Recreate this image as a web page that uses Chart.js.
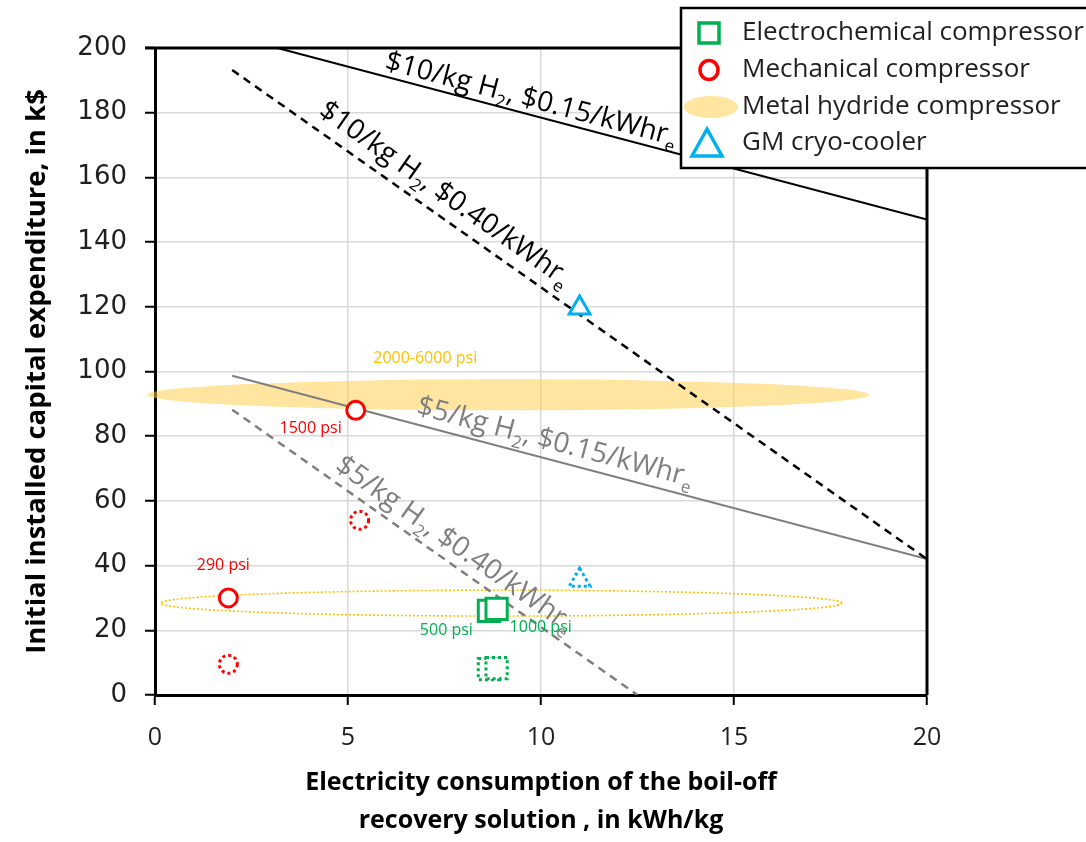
<!DOCTYPE html>
<html>
<head>
<meta charset="utf-8">
<script src="https://cdn.jsdelivr.net/npm/chart.js@4.4.1/dist/chart.umd.min.js"></script>
<style>
  html, body { margin: 0; padding: 0; background: #ffffff; }
  canvas { display: block; }
</style>
</head>
<body>
<canvas id="chart" width="1086" height="842"></canvas>
<script>
// ---- Axis ticks ----
const xTicks = [0, 5, 10, 15, 20];
const yTicks = [0, 20, 40, 60, 80, 100, 120, 140, 160, 180, 200];

// ---- Break-even cost lines (x: kWh/kg, y: k$) ----
const costLineX = [[3.17, 20], [2, 20], [2, 20], [2, 12.5]];
const costLineY = [[200, 147], [193.2, 42], [98.7, 42], [88.2, 0]];
const costLineLabel = [
  [['$10/kg H', 0], ['2', 1], [', $0.15/kWhr', 0], ['e', 1]],
  [['$10/kg H', 0], ['2', 1], [', $0.40/kWhr', 0], ['e', 1]],
  [['$5/kg H', 0], ['2', 1], [', $0.15/kWhr', 0], ['e', 1]],
  [['$5/kg H', 0], ['2', 1], [', $0.40/kWhr', 0], ['e', 1]]
];
const costLabelAtX = [9.65, 7.2, 10.25, 7.5];

// ---- Technologies ----
const mechX = [1.9, 5.2];
const mechY = [30, 88];
const mechLowX = [1.9, 5.3];
const mechLowY = [9.5, 54];
const echemX = [8.65, 8.85];
const echemY = [26, 26.6];
const echemLowX = [8.65, 8.85];
const echemLowY = [8, 8.3];
const cryoX = [11];
const cryoY = [119.6];
const cryoLowX = [11];
const cryoLowY = [35.5];

// Metal hydride compressor ranges: [xMin, xMax, yCenter, yHalfSpan]
const hydrideHigh = [-0.2, 18.5, 92.8, 4.8];
const hydrideLow = [0.15, 17.8, 28.4, 4.0];

// Pressure annotations
const mechPsi = ['290 psi', '1500 psi'];
const echemPsi = ['500 psi', '1000 psi'];
const hydridePsi = '2000-6000 psi';

const legendNames = ['Electrochemical compressor', 'Mechanical compressor', 'Metal hydride compressor', 'GM cryo-cooler'];

const RED = '#ff0000';
const GREEN = '#00b050';
const BLUE = '#00b0f0';
const GOLD = '#ffc000';
const GREY = '#7f7f7f';
const LABEL_FONT = '"Open Sans", "DejaVu Sans", sans-serif';

const pts = (xs, ys) => xs.map((v, i) => ({ x: v, y: ys[i] }));

const lineStyles = [
  { color: '#000000', dash: [], width: 2 },
  { color: '#000000', dash: [8, 6], width: 2.5 },
  { color: GREY, dash: [], width: 2 },
  { color: GREY, dash: [8, 6], width: 2.5 }
];

const lineSets = costLineX.map((xs, i) => ({
  type: 'scatter',
  data: pts(xs, costLineY[i]),
  showLine: true,
  borderColor: lineStyles[i].color,
  borderWidth: lineStyles[i].width,
  borderDash: lineStyles[i].dash,
  pointRadius: 0,
  fill: false,
  order: 2
}));

function markerSet(xs, ys, style, color, radius, dotted) {
  return {
    type: 'scatter',
    data: pts(xs, ys),
    pointStyle: style,
    pointRadius: radius,
    pointBorderWidth: 3,
    borderColor: color,
    pointBorderColor: color,
    pointBackgroundColor: '#ffffff',
    backgroundColor: '#ffffff',
    markerDash: dotted ? [3, 3] : null,
    order: dotted ? 1 : 0
  };
}

const markerSets = [
  markerSet(mechX, mechY, 'circle', RED, 9, false),
  markerSet(mechLowX, mechLowY, 'circle', RED, 9, true),
  markerSet(echemX, echemY, 'rect', GREEN, 15, false),
  markerSet(echemLowX, echemLowY, 'rect', GREEN, 15, true),
  markerSet(cryoX, cryoY, 'triangle', BLUE, 12, false),
  markerSet(cryoLowX, cryoLowY, 'triangle', BLUE, 12, true)
];

// Dotted outlines for the lower-bound markers
const markerDashPlugin = {
  id: 'markerDash',
  beforeDatasetDraw(chart, args) {
    const ds = chart.data.datasets[args.index];
    chart.ctx.setLineDash(ds.markerDash || []);
    chart.ctx.lineCap = 'butt';
  },
  afterDatasetDraw(chart) {
    chart.ctx.setLineDash([]);
  }
};

function ellipseFrom(range, xs, ys) {
  const px0 = xs.getPixelForValue(range[0]);
  const px1 = xs.getPixelForValue(range[1]);
  const pyc = ys.getPixelForValue(range[2]);
  const pyh = Math.abs(ys.getPixelForValue(range[2] + range[3]) - pyc);
  return { cx: (px0 + px1) / 2, cy: pyc, rx: Math.abs(px1 - px0) / 2, ry: pyh };
}

// Metal hydride bands drawn under the lines and markers
const hydridePlugin = {
  id: 'hydride',
  beforeDatasetsDraw(chart) {
    const { ctx, scales: { x, y } } = chart;
    const hi = ellipseFrom(hydrideHigh, x, y);
    ctx.save();
    ctx.beginPath();
    ctx.ellipse(hi.cx, hi.cy, hi.rx, hi.ry, 0, 0, Math.PI * 2);
    ctx.fillStyle = 'rgba(255, 206, 70, 0.52)';
    ctx.fill();

    const lo = ellipseFrom(hydrideLow, x, y);
    ctx.beginPath();
    ctx.ellipse(lo.cx, lo.cy, lo.rx, lo.ry, 0, 0, Math.PI * 2);
    ctx.strokeStyle = GOLD;
    ctx.lineWidth = 1.6;
    ctx.setLineDash([2, 2]);
    ctx.stroke();
    ctx.restore();
  }
};

function drawRich(ctx, parts, size, color) {
  const mainF = size + 'px ' + LABEL_FONT;
  const subF = Math.round(size * 0.62) + 'px ' + LABEL_FONT;
  let total = 0;
  const widths = parts.map(([t, sub]) => {
    ctx.font = sub ? subF : mainF;
    const w = ctx.measureText(t).width;
    total += w;
    return w;
  });
  let px = -total / 2;
  ctx.fillStyle = color;
  ctx.textBaseline = 'alphabetic';
  ctx.textAlign = 'left';
  parts.forEach(([t, sub], i) => {
    ctx.font = sub ? subF : mainF;
    ctx.fillText(t, px, size * 0.36 + (sub ? size * 0.26 : 0));
    px += widths[i];
  });
}

// Line captions, pressure notes, frame and legend
const annotationPlugin = {
  id: 'annotations',
  afterDatasetsDraw(chart) {
    const { ctx, chartArea: a, scales: { x, y } } = chart;
    ctx.save();

    // Captions along the cost lines
    const offsets = [17, 23, 20, 20];
    costLineX.forEach((xs, i) => {
      const x0 = x.getPixelForValue(xs[0]), y0 = y.getPixelForValue(costLineY[i][0]);
      const x1 = x.getPixelForValue(xs[1]), y1 = y.getPixelForValue(costLineY[i][1]);
      const ang = Math.atan2(y1 - y0, x1 - x0);
      const t = (costLabelAtX[i] - xs[0]) / (xs[1] - xs[0]);
      const fx = x0 + (x1 - x0) * t, fy = y0 + (y1 - y0) * t;
      const off = offsets[i];
      const nx = Math.sin(ang), ny = -Math.cos(ang);
      ctx.save();
      ctx.translate(fx + nx * off, fy + ny * off);
      ctx.rotate(ang);
      drawRich(ctx, costLineLabel[i], 28, lineStyles[i].color);
      ctx.restore();
    });

    // Pressure notes
    ctx.font = '16px ' + LABEL_FONT;
    ctx.textBaseline = 'middle';
    const note = (txt, px, py, align, color) => {
      ctx.textAlign = align;
      ctx.fillStyle = color;
      ctx.fillText(txt, px, py);
    };
    note(mechPsi[0], x.getPixelForValue(mechX[0]) - 5, y.getPixelForValue(mechY[0]) - 33, 'center', RED);
    note(mechPsi[1], x.getPixelForValue(mechX[1]) - 14, y.getPixelForValue(mechY[1]) + 18, 'right', RED);
    note(echemPsi[0], x.getPixelForValue(echemX[0]) - 16, y.getPixelForValue(echemY[0]) + 20, 'right', GREEN);
    note(echemPsi[1], x.getPixelForValue(echemX[1]) + 13, y.getPixelForValue(echemY[1]) + 18, 'left', GREEN);
    const hi = ellipseFrom(hydrideHigh, x, y);
    note(hydridePsi, x.getPixelForValue(7.0), hi.cy - hi.ry - 21, 'center', GOLD);

    // Top and right frame lines
    ctx.strokeStyle = '#000';
    ctx.lineWidth = 3;
    ctx.beginPath();
    ctx.moveTo(a.left - 10, a.top);
    ctx.lineTo(a.right, a.top);
    ctx.lineTo(a.right, a.bottom);
    ctx.stroke();
    ctx.restore();
  },
  afterDraw(chart) {
    const ctx = chart.ctx;
    ctx.save();
    // Legend box
    ctx.fillStyle = '#ffffff';
    ctx.fillRect(681, 8, 420, 160);
    ctx.strokeStyle = '#000';
    ctx.lineWidth = 2.5;
    ctx.strokeRect(681, 8, 420, 160);

    const rowY = [33, 70, 107, 143];
    ctx.lineWidth = 3.5;
    // square
    ctx.strokeStyle = GREEN;
    ctx.strokeRect(699, rowY[0] - 10, 20, 20);
    // circle
    ctx.strokeStyle = RED;
    ctx.beginPath();
    ctx.ellipse(709, rowY[1], 9, 9.5, 0, 0, Math.PI * 2);
    ctx.stroke();
    // filled ellipse
    ctx.fillStyle = 'rgba(255, 206, 70, 0.52)';
    ctx.beginPath();
    ctx.ellipse(711, rowY[2], 27, 11, 0, 0, Math.PI * 2);
    ctx.fill();
    // triangle
    ctx.strokeStyle = BLUE;
    ctx.beginPath();
    ctx.moveTo(707, rowY[3] - 14);
    ctx.lineTo(722, rowY[3] + 13);
    ctx.lineTo(692, rowY[3] + 13);
    ctx.closePath();
    ctx.stroke();

    ctx.fillStyle = '#1f1f1f';
    ctx.font = '26px ' + LABEL_FONT;
    ctx.textAlign = 'left';
    ctx.textBaseline = 'middle';
    legendNames.forEach((n, i) => ctx.fillText(n, 742, rowY[i]));
    ctx.restore();
  }
};

new Chart(document.getElementById('chart'), {
  type: 'scatter',
  data: { datasets: [...markerSets, ...lineSets] },
  options: {
    responsive: false,
    animation: false,
    layout: { padding: { top: 48, right: 159, bottom: 0, left: 0 } },
    plugins: { legend: { display: false }, tooltip: { enabled: false } },
    scales: {
      x: {
        type: 'linear',
        min: 0,
        max: 20,
        afterBuildTicks: s => { s.ticks = xTicks.map(v => ({ value: v })); },
        afterFit: s => { s.height = 147; },
        grid: { color: '#d9d9d9', lineWidth: 1.5, tickColor: '#000', tickLength: 10, tickWidth: 2 },
        border: { color: '#000', width: 3 },
        ticks: {
          padding: 18,
          color: '#1f1f1f',
          font: { family: '"Open Sans", sans-serif', size: 25 }
        },
        title: {
          display: true,
          text: ['Electricity consumption of the boil-off', 'recovery solution , in kWh/kg'],
          color: '#000',
          padding: { top: 0, bottom: 2 },
          font: { family: '"Open Sans", sans-serif', size: 25, weight: 'bold', lineHeight: 1.52 }
        }
      },
      y: {
        type: 'linear',
        min: 0,
        max: 200,
        afterBuildTicks: s => { s.ticks = yTicks.map(v => ({ value: v })); },
        afterFit: s => { s.width = 155; },
        grid: { color: '#d9d9d9', lineWidth: 1.5, tickColor: '#000', tickLength: 10, tickWidth: 2 },
        border: { color: '#000', width: 3 },
        ticks: {
          padding: 18,
          color: '#1f1f1f',
          font: { family: '"DejaVu Sans", sans-serif', size: 26 }
        },
        title: {
          display: true,
          text: 'Initial installed capital expenditure, in k$',
          color: '#000',
          padding: { top: 21, bottom: 0 },
          font: { family: '"Open Sans", sans-serif', size: 27.5, weight: 'bold', lineHeight: 1.2 }
        }
      }
    }
  },
  plugins: [hydridePlugin, markerDashPlugin, annotationPlugin]
});
</script>
</body>
</html>
